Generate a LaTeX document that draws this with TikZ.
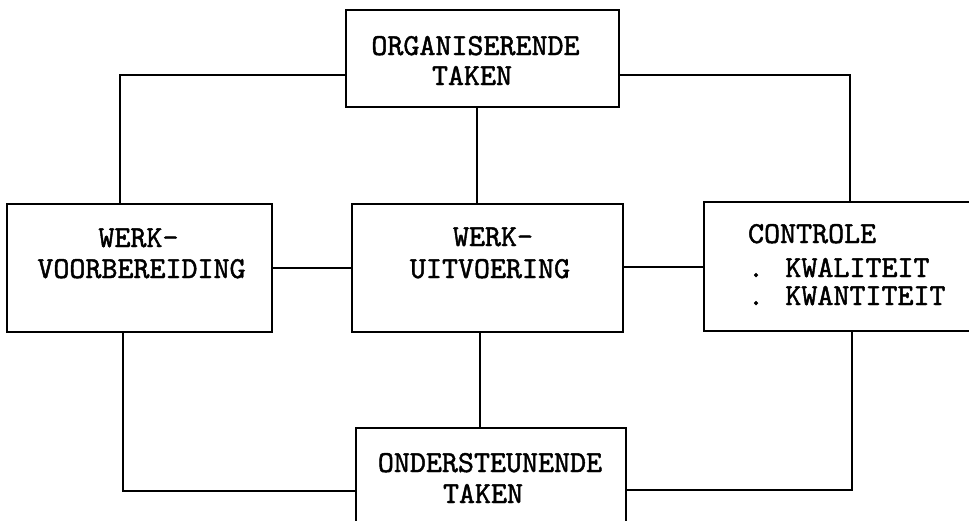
\documentclass[tikz,border=0pt]{standalone}
\usepackage{fontspec}
\newfontfamily\typewriter{lmmono10-regular}[Extension=.otf, FakeBold=1.5]
\begin{document}
\begin{tikzpicture}[x=1pt,y=-1pt,
  line width=2.1pt,
  taskbox/.style={draw, rectangle, inner sep=0pt},
  lbl/.style={inner sep=0pt, font=\typewriter\fontsize{30.5}{31}\selectfont},
  lblc/.style={lbl, anchor=base},
  lbll/.style={lbl, anchor=base west}]
\useasboundingbox (0,0) rectangle (969,520);

% the five task boxes
\node[taskbox, minimum width=273pt, minimum height=97pt]  (top)   at (482.5,58.5) {};
\node[taskbox, minimum width=265pt, minimum height=128pt] (left)  at (139.5,268) {};
\node[taskbox, minimum width=271pt, minimum height=128pt] (mid)   at (487.5,268) {};
\node[taskbox, minimum width=290pt, minimum height=129pt] (right) at (849,266.5) {};
\node[taskbox, minimum width=270pt, minimum height=112pt] (bot)   at (491,484) {};

% box texts
\node[lblc] (t1) at (475.5,55) {ORGANISERENDE};
\node[lblc] (t2) at (472,85) {TAKEN};
\node[lblc] (l1) at (138.5,247) {WERK-};
\node[lblc] (l2) at (141.5,278) {VOORBEREIDING};
\node[lblc] (m1) at (493,246) {WERK-};
\node[lblc] (m2) at (490,278) {UITVOERING};
\node[lbll] (r1) at (747,243) {CONTROLE};
\node[lbll] (r2) at (747,277) {. KWALITEIT};
\node[lbll] (r3) at (747,305) {. KWANTITEIT};
\node[lblc] (b1) at (490,472) {ONDERSTEUNENDE};
\node[lblc] (b2) at (483,503) {TAKEN};

% routing points of the connectors
\coordinate (tl) at (120,75);
\coordinate (tr) at (850,75);
\coordinate (bl) at (123,491);
\coordinate (br) at (852,490);
\coordinate (cx1) at (477,0);
\coordinate (cx2) at (480,0);
\coordinate (hy1) at (0,268);
\coordinate (hy2) at (0,267);

% connectors
\draw (top.west |- tl) -- (tl) -- (tl |- left.north);
\draw (top.east |- tr) -- (tr) -- (tr |- right.north);
\draw (top.south -| cx1) -- (mid.north -| cx1);
\draw (left.east |- hy1) -- (mid.west |- hy1);
\draw (mid.east |- hy2) -- (right.west |- hy2);
\draw (mid.south -| cx2) -- (bot.north -| cx2);
\draw (left.south -| bl) -- (bl) -- (bl -| bot.west);
\draw (right.south -| br) -- (br) -- (br -| bot.east);
\end{tikzpicture}
\end{document}
